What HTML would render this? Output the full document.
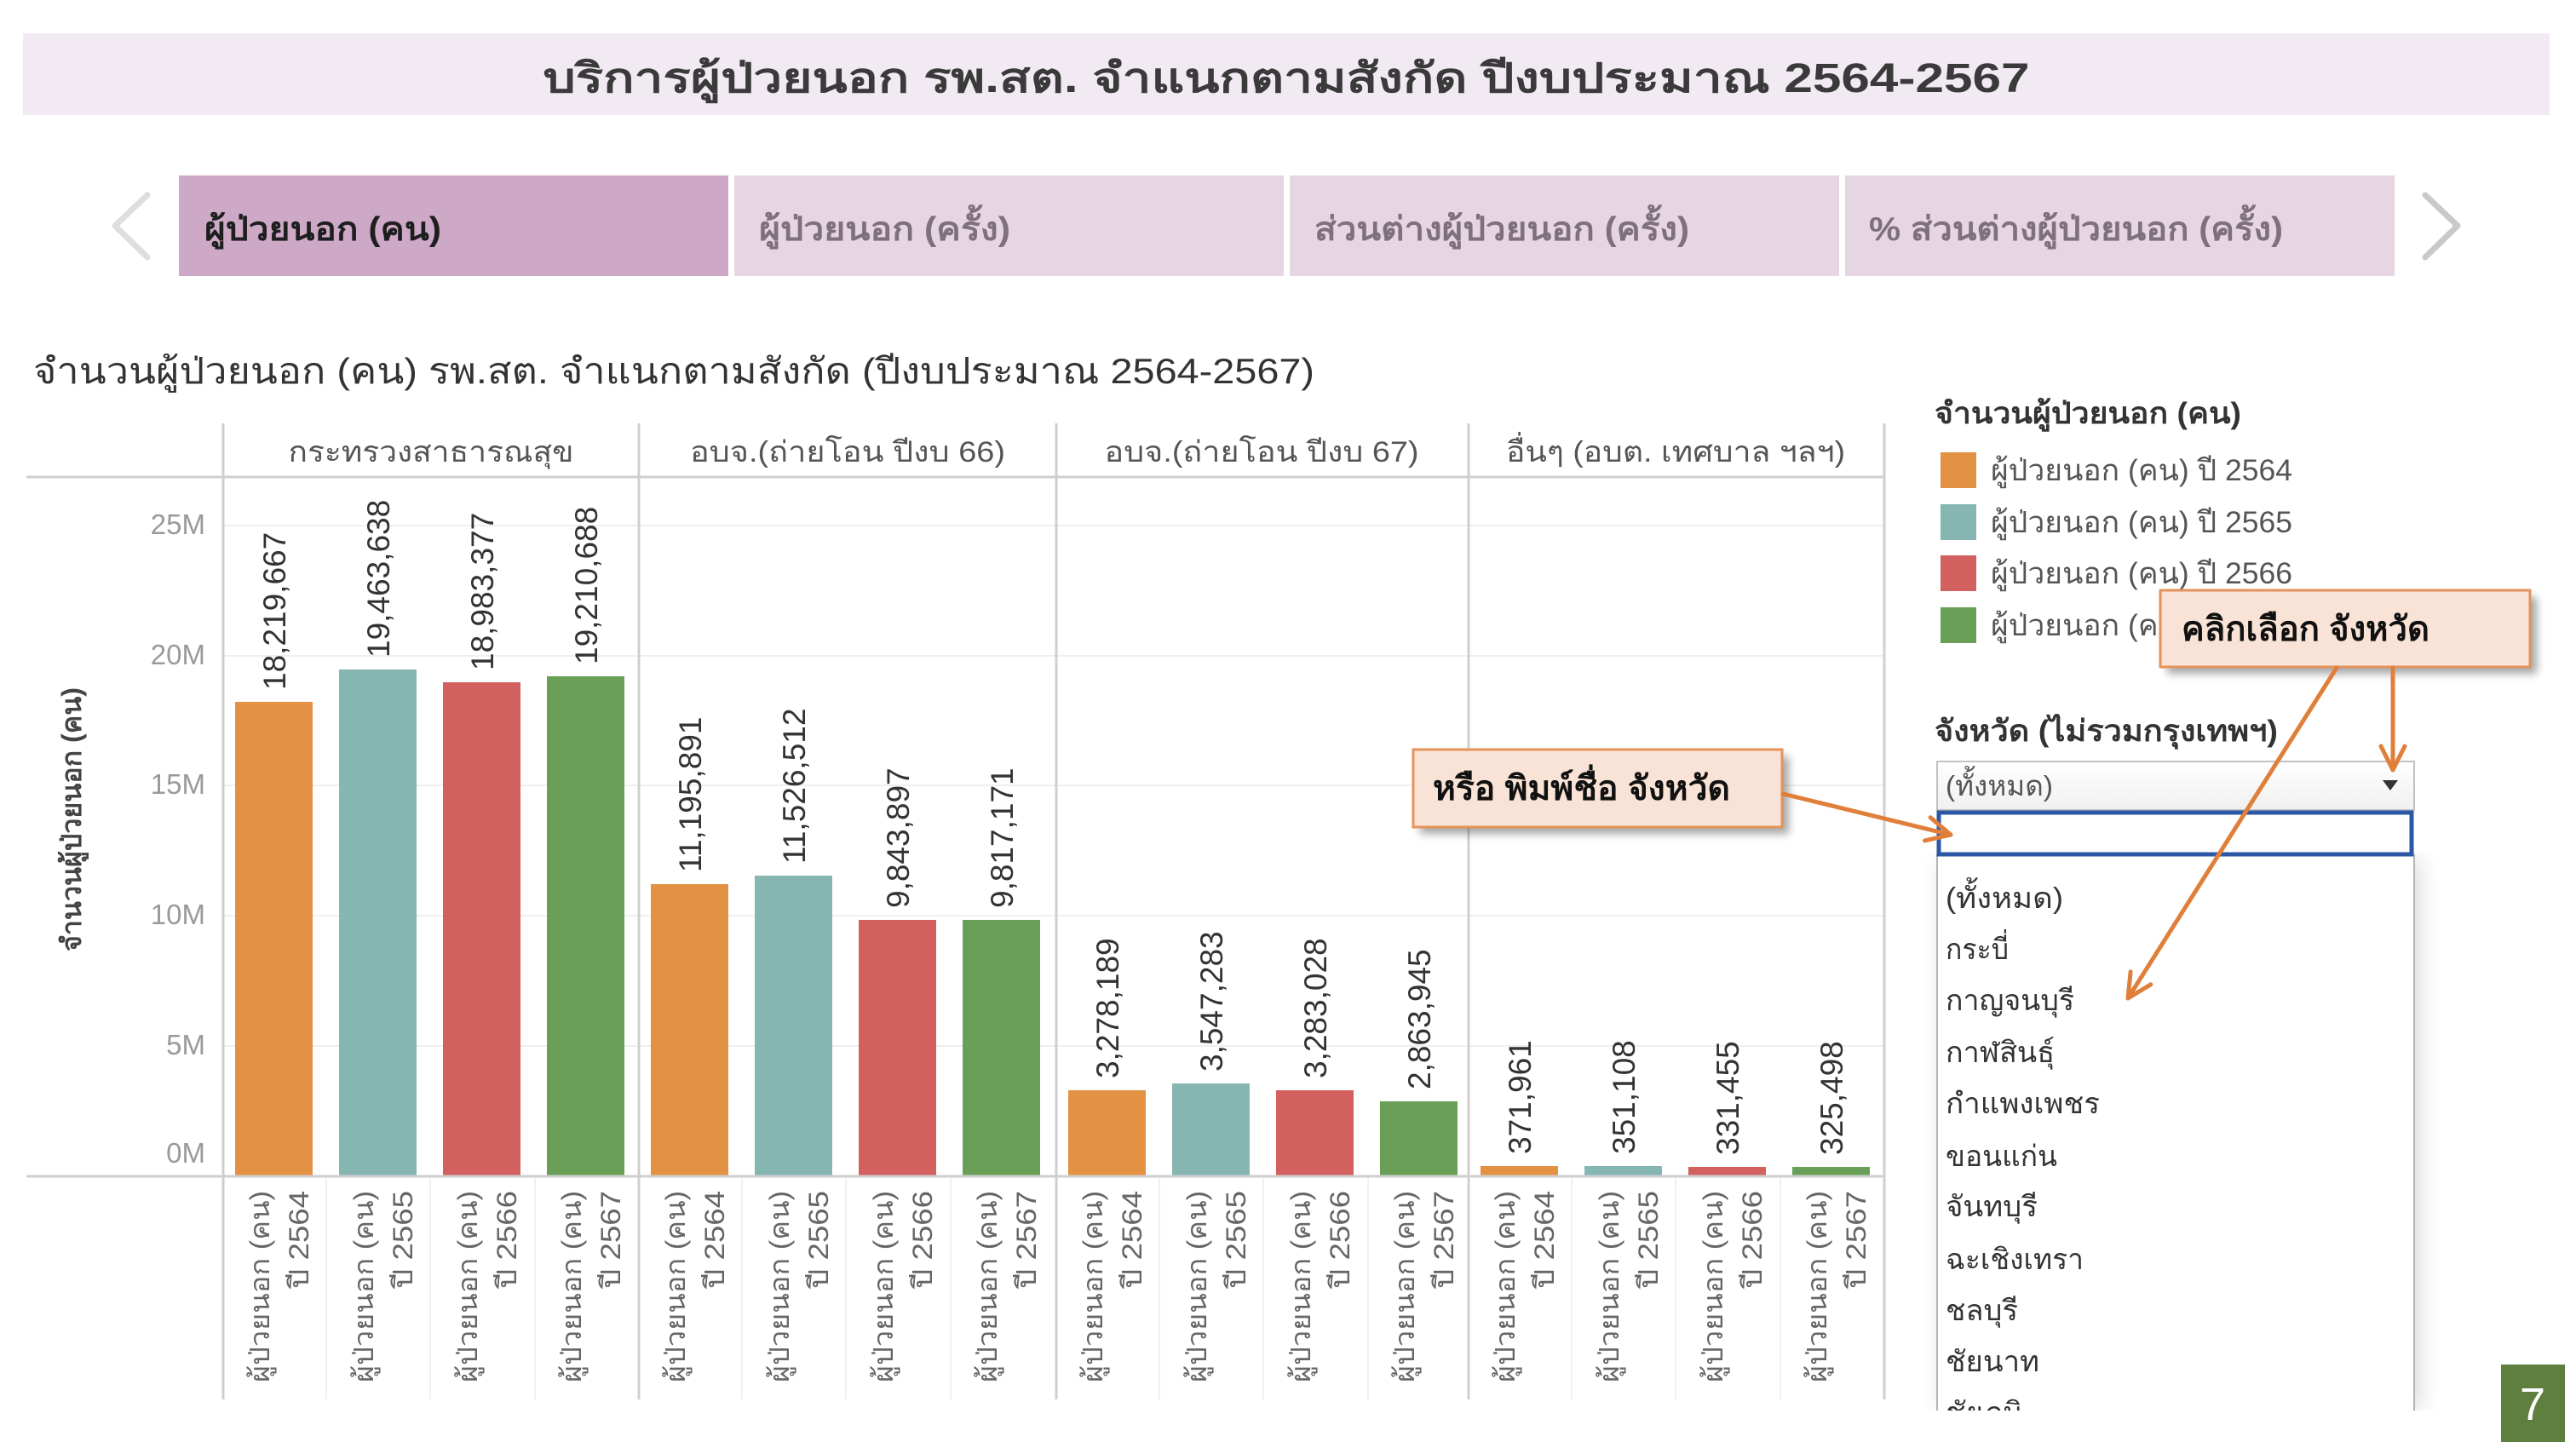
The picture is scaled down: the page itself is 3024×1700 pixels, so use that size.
<!DOCTYPE html>
<html><head><meta charset="utf-8"><style>
html,body{margin:0;padding:0;background:#fff;}
body{width:3024px;height:1700px;overflow:hidden;}
svg{display:block;font-family:"Liberation Sans","DejaVu Sans","Noto Sans CJK SC",sans-serif;}
</style></head><body>
<svg width="3024" height="1700" viewBox="0 0 3024 1700" xmlns="http://www.w3.org/2000/svg">
<defs>
<filter id="sh" x="-20%" y="-20%" width="150%" height="160%"><feGaussianBlur stdDeviation="5"/></filter>
<filter id="sh2" x="-20%" y="-5%" width="140%" height="110%"><feGaussianBlur stdDeviation="14"/></filter>
<marker id="ah" markerUnits="userSpaceOnUse" markerWidth="40" markerHeight="40" viewBox="0 0 40 40" refX="36" refY="20" orient="auto">
<path d="M8,6 L36,20 L8,34" fill="none" stroke="#e07f3a" stroke-width="5" stroke-linecap="round" stroke-linejoin="round"/>
</marker>
<clipPath id="listclip"><rect x="2200" y="1000" width="760" height="656"/></clipPath>
</defs>

<!-- Title banner -->
<rect x="27" y="39" width="2966" height="96" fill="#f2eaf3"/>
<text x="1510" y="108" text-anchor="middle" font-size="48" font-weight="bold" fill="#3a3a3a" textLength="1745" lengthAdjust="spacingAndGlyphs">บริการผู้ป่วยนอก รพ.สต. จำแนกตามสังกัด ปีงบประมาณ 2564-2567</text>

<!-- Tabs -->
<rect x="210" y="206" width="645" height="118" fill="#cda8c7"/>
<rect x="862" y="206" width="645" height="118" fill="#e6d5e3"/>
<rect x="1514" y="206" width="645" height="118" fill="#e6d5e3"/>
<rect x="2166" y="206" width="645" height="118" fill="#e6d5e3"/>
<text x="240" y="282" font-size="39" font-weight="bold" fill="#1e1e1e" textLength="278" lengthAdjust="spacingAndGlyphs">ผู้ป่วยนอก (คน)</text>
<text x="891" y="282" font-size="39" font-weight="bold" fill="#7e707c" textLength="295" lengthAdjust="spacingAndGlyphs">ผู้ป่วยนอก (ครั้ง)</text>
<text x="1543" y="282" font-size="39" font-weight="bold" fill="#7e707c" textLength="440" lengthAdjust="spacingAndGlyphs">ส่วนต่างผู้ป่วยนอก (ครั้ง)</text>
<text x="2194" y="282" font-size="39" font-weight="bold" fill="#7e707c" textLength="486" lengthAdjust="spacingAndGlyphs">% ส่วนต่างผู้ป่วยนอก (ครั้ง)</text>
<polyline points="173,229 135,265 173,302" fill="none" stroke="#dedede" stroke-width="7" stroke-linecap="round" stroke-linejoin="round"/>
<polyline points="2847,229 2885,265 2847,302" fill="none" stroke="#c9c9c9" stroke-width="7" stroke-linecap="round" stroke-linejoin="round"/>

<!-- Chart title -->
<text x="39" y="450" font-size="42" fill="#333" textLength="1504" lengthAdjust="spacingAndGlyphs">จำนวนผู้ป่วยนอก (คน) รพ.สต. จำแนกตามสังกัด (ปีงบประมาณ 2564-2567)</text>

<!-- Gridlines -->
<g stroke="#efefef" stroke-width="2">
<line x1="262" y1="617" x2="2212" y2="617"/>
<line x1="262" y1="770" x2="2212" y2="770"/>
<line x1="262" y1="922" x2="2212" y2="922"/>
<line x1="262" y1="1075" x2="2212" y2="1075"/>
<line x1="262" y1="1228" x2="2212" y2="1228"/>
</g>
<!-- x label column separators -->
<g stroke="#f0f0f0" stroke-width="2">
<line x1="383" y1="1382" x2="383" y2="1643"/><line x1="505" y1="1382" x2="505" y2="1643"/><line x1="628" y1="1382" x2="628" y2="1643"/>
<line x1="871" y1="1382" x2="871" y2="1643"/><line x1="993" y1="1382" x2="993" y2="1643"/><line x1="1116" y1="1382" x2="1116" y2="1643"/>
<line x1="1361" y1="1382" x2="1361" y2="1643"/><line x1="1483" y1="1382" x2="1483" y2="1643"/><line x1="1606" y1="1382" x2="1606" y2="1643"/>
<line x1="1845" y1="1382" x2="1845" y2="1643"/><line x1="1967" y1="1382" x2="1967" y2="1643"/><line x1="2090" y1="1382" x2="2090" y2="1643"/>
</g>

<!-- Panel frame lines -->
<g stroke="#cfcfcf" stroke-width="3">
<line x1="31" y1="560" x2="2212" y2="560"/>
<line x1="262" y1="497" x2="262" y2="1643"/>
<line x1="750" y1="497" x2="750" y2="1643"/>
<line x1="1240" y1="497" x2="1240" y2="1643"/>
<line x1="1724" y1="497" x2="1724" y2="1643"/>
<line x1="2212" y1="497" x2="2212" y2="1643"/>
</g>

<!-- Panel headers -->
<g font-size="34" fill="#555" text-anchor="middle">
<text x="506" y="542" textLength="335" lengthAdjust="spacingAndGlyphs">กระทรวงสาธารณสุข</text>
<text x="995" y="542" textLength="370" lengthAdjust="spacingAndGlyphs">อบจ.(ถ่ายโอน ปีงบ 66)</text>
<text x="1481" y="542" textLength="369" lengthAdjust="spacingAndGlyphs">อบจ.(ถ่ายโอน ปีงบ 67)</text>
<text x="1967" y="542" textLength="398" lengthAdjust="spacingAndGlyphs">อื่นๆ (อบต. เทศบาล ฯลฯ)</text>
</g>

<!-- Y axis ticks -->
<g font-size="33" fill="#9a9a9a" text-anchor="end">
<text x="241" y="627">25M</text>
<text x="241" y="780">20M</text>
<text x="241" y="932">15M</text>
<text x="241" y="1085">10M</text>
<text x="241" y="1238">5M</text>
<text x="241" y="1365">0M</text>
</g>
<text transform="translate(95,962) rotate(-90)" text-anchor="middle" font-size="32" font-weight="bold" fill="#444" textLength="310" lengthAdjust="spacingAndGlyphs">จำนวนผู้ป่วยนอก (คน)</text>

<!-- Bars -->
<g>
<rect x="276" y="824" width="91" height="556" fill="#e39244"/>
<rect x="398" y="786" width="91" height="594" fill="#86b6b1"/>
<rect x="520" y="801" width="91" height="579" fill="#d1605e"/>
<rect x="642" y="794" width="91" height="586" fill="#6a9f58"/>

<rect x="764" y="1038" width="91" height="342" fill="#e39244"/>
<rect x="886" y="1028" width="91" height="352" fill="#86b6b1"/>
<rect x="1008" y="1080" width="91" height="300" fill="#d1605e"/>
<rect x="1130" y="1080" width="91" height="300" fill="#6a9f58"/>

<rect x="1254" y="1280" width="91" height="100" fill="#e39244"/>
<rect x="1376" y="1272" width="91" height="108" fill="#86b6b1"/>
<rect x="1498" y="1280" width="91" height="100" fill="#d1605e"/>
<rect x="1620" y="1293" width="91" height="87" fill="#6a9f58"/>

<rect x="1738" y="1369" width="91" height="11" fill="#e39244"/>
<rect x="1860" y="1369" width="91" height="11" fill="#86b6b1"/>
<rect x="1982" y="1370" width="91" height="10" fill="#d1605e"/>
<rect x="2104" y="1370" width="91" height="10" fill="#6a9f58"/>
</g>
<line x1="31" y1="1381" x2="2212" y2="1381" stroke="#cfcfcf" stroke-width="3"/>

<!-- Value labels -->
<g font-size="37" fill="#333">
<text transform="translate(335,810) rotate(-90)">18,219,667</text>
<text transform="translate(457,772) rotate(-90)">19,463,638</text>
<text transform="translate(579,787) rotate(-90)">18,983,377</text>
<text transform="translate(701,780) rotate(-90)">19,210,688</text>
<text transform="translate(823,1024) rotate(-90)">11,195,891</text>
<text transform="translate(945,1014) rotate(-90)">11,526,512</text>
<text transform="translate(1067,1066) rotate(-90)">9,843,897</text>
<text transform="translate(1189,1066) rotate(-90)">9,817,171</text>
<text transform="translate(1313,1266) rotate(-90)">3,278,189</text>
<text transform="translate(1435,1258) rotate(-90)">3,547,283</text>
<text transform="translate(1557,1266) rotate(-90)">3,283,028</text>
<text transform="translate(1679,1279) rotate(-90)">2,863,945</text>
<text transform="translate(1797,1355) rotate(-90)">371,961</text>
<text transform="translate(1919,1355) rotate(-90)">351,108</text>
<text transform="translate(2041,1356) rotate(-90)">331,455</text>
<text transform="translate(2163,1356) rotate(-90)">325,498</text>
</g>

<!-- X labels -->
<g font-size="32" fill="#666" text-anchor="end">
<text transform="translate(316,1398) rotate(-90)" textLength="225" lengthAdjust="spacingAndGlyphs">ผู้ป่วยนอก (คน)</text><text transform="translate(362,1398) rotate(-90)" textLength="115" lengthAdjust="spacingAndGlyphs">ปี 2564</text>
<text transform="translate(438,1398) rotate(-90)" textLength="225" lengthAdjust="spacingAndGlyphs">ผู้ป่วยนอก (คน)</text><text transform="translate(484,1398) rotate(-90)" textLength="115" lengthAdjust="spacingAndGlyphs">ปี 2565</text>
<text transform="translate(560,1398) rotate(-90)" textLength="225" lengthAdjust="spacingAndGlyphs">ผู้ป่วยนอก (คน)</text><text transform="translate(606,1398) rotate(-90)" textLength="115" lengthAdjust="spacingAndGlyphs">ปี 2566</text>
<text transform="translate(682,1398) rotate(-90)" textLength="225" lengthAdjust="spacingAndGlyphs">ผู้ป่วยนอก (คน)</text><text transform="translate(728,1398) rotate(-90)" textLength="115" lengthAdjust="spacingAndGlyphs">ปี 2567</text>

<text transform="translate(804,1398) rotate(-90)" textLength="225" lengthAdjust="spacingAndGlyphs">ผู้ป่วยนอก (คน)</text><text transform="translate(850,1398) rotate(-90)" textLength="115" lengthAdjust="spacingAndGlyphs">ปี 2564</text>
<text transform="translate(926,1398) rotate(-90)" textLength="225" lengthAdjust="spacingAndGlyphs">ผู้ป่วยนอก (คน)</text><text transform="translate(972,1398) rotate(-90)" textLength="115" lengthAdjust="spacingAndGlyphs">ปี 2565</text>
<text transform="translate(1048,1398) rotate(-90)" textLength="225" lengthAdjust="spacingAndGlyphs">ผู้ป่วยนอก (คน)</text><text transform="translate(1094,1398) rotate(-90)" textLength="115" lengthAdjust="spacingAndGlyphs">ปี 2566</text>
<text transform="translate(1170,1398) rotate(-90)" textLength="225" lengthAdjust="spacingAndGlyphs">ผู้ป่วยนอก (คน)</text><text transform="translate(1216,1398) rotate(-90)" textLength="115" lengthAdjust="spacingAndGlyphs">ปี 2567</text>

<text transform="translate(1294,1398) rotate(-90)" textLength="225" lengthAdjust="spacingAndGlyphs">ผู้ป่วยนอก (คน)</text><text transform="translate(1340,1398) rotate(-90)" textLength="115" lengthAdjust="spacingAndGlyphs">ปี 2564</text>
<text transform="translate(1416,1398) rotate(-90)" textLength="225" lengthAdjust="spacingAndGlyphs">ผู้ป่วยนอก (คน)</text><text transform="translate(1462,1398) rotate(-90)" textLength="115" lengthAdjust="spacingAndGlyphs">ปี 2565</text>
<text transform="translate(1538,1398) rotate(-90)" textLength="225" lengthAdjust="spacingAndGlyphs">ผู้ป่วยนอก (คน)</text><text transform="translate(1584,1398) rotate(-90)" textLength="115" lengthAdjust="spacingAndGlyphs">ปี 2566</text>
<text transform="translate(1660,1398) rotate(-90)" textLength="225" lengthAdjust="spacingAndGlyphs">ผู้ป่วยนอก (คน)</text><text transform="translate(1706,1398) rotate(-90)" textLength="115" lengthAdjust="spacingAndGlyphs">ปี 2567</text>

<text transform="translate(1778,1398) rotate(-90)" textLength="225" lengthAdjust="spacingAndGlyphs">ผู้ป่วยนอก (คน)</text><text transform="translate(1824,1398) rotate(-90)" textLength="115" lengthAdjust="spacingAndGlyphs">ปี 2564</text>
<text transform="translate(1900,1398) rotate(-90)" textLength="225" lengthAdjust="spacingAndGlyphs">ผู้ป่วยนอก (คน)</text><text transform="translate(1946,1398) rotate(-90)" textLength="115" lengthAdjust="spacingAndGlyphs">ปี 2565</text>
<text transform="translate(2022,1398) rotate(-90)" textLength="225" lengthAdjust="spacingAndGlyphs">ผู้ป่วยนอก (คน)</text><text transform="translate(2068,1398) rotate(-90)" textLength="115" lengthAdjust="spacingAndGlyphs">ปี 2566</text>
<text transform="translate(2144,1398) rotate(-90)" textLength="225" lengthAdjust="spacingAndGlyphs">ผู้ป่วยนอก (คน)</text><text transform="translate(2190,1398) rotate(-90)" textLength="115" lengthAdjust="spacingAndGlyphs">ปี 2567</text>
</g>

<!-- Legend -->
<text x="2271" y="497" font-size="35" font-weight="bold" fill="#333" textLength="360" lengthAdjust="spacingAndGlyphs">จำนวนผู้ป่วยนอก (คน)</text>
<rect x="2278" y="531" width="42" height="42" fill="#e39244"/>
<rect x="2278" y="592" width="42" height="42" fill="#86b6b1"/>
<rect x="2278" y="652" width="42" height="42" fill="#d1605e"/>
<rect x="2278" y="713" width="42" height="42" fill="#6a9f58"/>
<g font-size="35" fill="#555">
<text x="2337" y="564" textLength="354" lengthAdjust="spacingAndGlyphs">ผู้ป่วยนอก (คน) ปี 2564</text>
<text x="2337" y="625" textLength="354" lengthAdjust="spacingAndGlyphs">ผู้ป่วยนอก (คน) ปี 2565</text>
<text x="2337" y="685" textLength="354" lengthAdjust="spacingAndGlyphs">ผู้ป่วยนอก (คน) ปี 2566</text>
<text x="2337" y="746" textLength="354" lengthAdjust="spacingAndGlyphs">ผู้ป่วยนอก (คน) ปี 2567</text>
</g>

<!-- Filter -->
<text x="2271" y="870" font-size="35" font-weight="bold" fill="#333" textLength="403" lengthAdjust="spacingAndGlyphs">จังหวัด (ไม่รวมกรุงเทพฯ)</text>
<rect x="2282" y="1010" width="556" height="646" fill="#000" opacity="0.18" filter="url(#sh2)" clip-path="url(#listclip)"/>
<linearGradient id="dd" x1="0" y1="0" x2="0" y2="1"><stop offset="0" stop-color="#ffffff"/><stop offset="1" stop-color="#f0f0f0"/></linearGradient>
<rect x="2274" y="894" width="560" height="57" fill="url(#dd)" stroke="#c2c2c2" stroke-width="2"/>
<text x="2284" y="934" font-size="33" fill="#555" textLength="126" lengthAdjust="spacingAndGlyphs">(ทั้งหมด)</text>
<path d="M2797,916 L2815,916 L2806,928 Z" fill="#333"/>
<g clip-path="url(#listclip)">
<rect x="2274" y="1004" width="560" height="660" fill="#fff" stroke="#b5b5b5" stroke-width="2"/>
<g font-size="34" fill="#333">
<text x="2284" y="1066" textLength="138" lengthAdjust="spacingAndGlyphs">(ทั้งหมด)</text>
<text x="2284" y="1126" textLength="74" lengthAdjust="spacingAndGlyphs">กระบี่</text>
<text x="2284" y="1186" textLength="151" lengthAdjust="spacingAndGlyphs">กาญจนบุรี</text>
<text x="2284" y="1247" textLength="128" lengthAdjust="spacingAndGlyphs">กาฬสินธุ์</text>
<text x="2284" y="1307" textLength="181" lengthAdjust="spacingAndGlyphs">กำแพงเพชร</text>
<text x="2284" y="1369" textLength="131" lengthAdjust="spacingAndGlyphs">ขอนแก่น</text>
<text x="2284" y="1428" textLength="108" lengthAdjust="spacingAndGlyphs">จันทบุรี</text>
<text x="2284" y="1490" textLength="162" lengthAdjust="spacingAndGlyphs">ฉะเชิงเทรา</text>
<text x="2284" y="1550" textLength="85" lengthAdjust="spacingAndGlyphs">ชลบุรี</text>
<text x="2284" y="1610" textLength="110" lengthAdjust="spacingAndGlyphs">ชัยนาท</text>
<text x="2284" y="1670" textLength="90" lengthAdjust="spacingAndGlyphs">ชัยภูมิ</text>
</g>
</g>
<rect x="2276" y="954" width="555" height="49" fill="#fff" stroke="#2b57a6" stroke-width="5"/>

<!-- Callout 1 -->
<rect x="2544" y="701" width="434" height="90" fill="#000" opacity="0.35" filter="url(#sh)"/>
<rect x="2536" y="693" width="434" height="90" fill="#f9e3d6" stroke="#e4935a" stroke-width="3"/>
<text x="2561" y="752" font-size="40" font-weight="bold" fill="#111" textLength="291" lengthAdjust="spacingAndGlyphs">คลิกเลือก จังหวัด</text>

<!-- Callout 2 -->
<rect x="1667" y="888" width="433" height="91" fill="#000" opacity="0.35" filter="url(#sh)"/>
<rect x="1659" y="880" width="433" height="91" fill="#f9e3d6" stroke="#e4935a" stroke-width="3"/>
<text x="1682" y="939" font-size="40" font-weight="bold" fill="#111" textLength="349" lengthAdjust="spacingAndGlyphs">หรือ พิมพ์ชื่อ จังหวัด</text>

<!-- Arrows -->
<g stroke="#e07f3a" stroke-width="5" fill="none" stroke-linecap="round">
<line x1="2093" y1="932" x2="2290" y2="980" marker-end="url(#ah)"/>
<line x1="2743" y1="784" x2="2498" y2="1172" marker-end="url(#ah)"/>
<line x1="2809" y1="784" x2="2809" y2="904" marker-end="url(#ah)"/>
</g>

<!-- Page number -->
<rect x="2936" y="1602" width="75" height="91" fill="#5f7f3e"/>
<text x="2973" y="1667" text-anchor="middle" font-size="54" fill="#fff">7</text>
</svg>
</body></html>
